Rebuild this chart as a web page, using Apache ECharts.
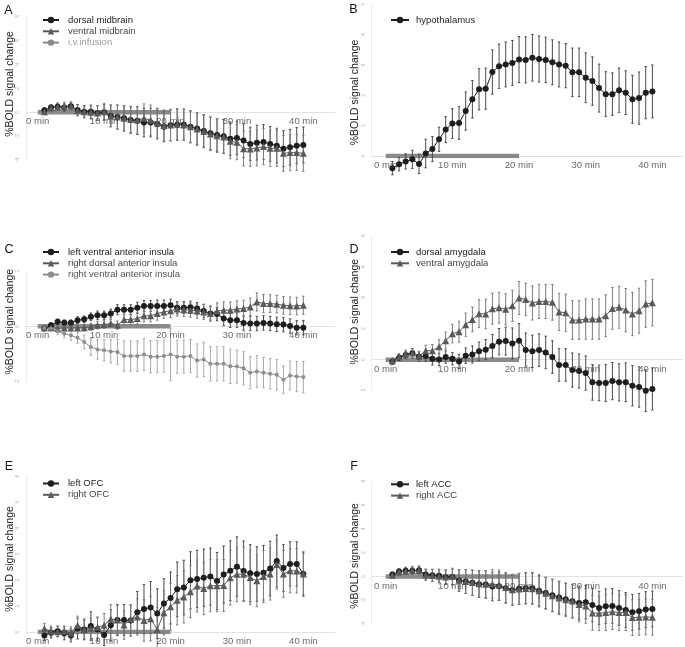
<!DOCTYPE html>
<html>
<head>
<meta charset="utf-8">
<script src="https://cdn.jsdelivr.net/npm/echarts@6/dist/echarts.min.js"></script>
<style>
html,body{margin:0;padding:0;background:#fff;}
#chart{width:685px;height:647px;}
</style>
</head>
<body>
<div id="chart"></div>
<script>
// ---------- data ----------
const minutes = [1,2,3,4,5,6,7,8,9,10,11,12,13,14,15,16,17,18,19,20,21,22,23,24,25,26,27,28,29,30,31,32,33,34,35,36,37,38,39,40];
const xTickValues = [0, 10, 20, 30, 40];
const infusionX = [0, 20];
const infusionY = [0, 0];

// A
const dorsalMidbrain = [0.17,0.4,0.47,0.4,0.5,0.2,0.05,0.05,-0.08,0,-0.3,-0.4,-0.5,-0.65,-0.7,-0.85,-0.85,-0.97,-1.2,-1.08,-1.03,-1.03,-1.2,-1.36,-1.55,-1.75,-1.9,-2.0,-2.2,-2.14,-2.36,-2.64,-2.53,-2.47,-2.64,-2.78,-3.03,-2.92,-2.78,-2.72];
const dorsalMidbrainErr = [0.2,0.25,0.3,0.3,0.35,0.45,0.5,0.55,0.6,0.65,0.9,1.0,1.05,1.1,1.15,1.2,1.2,1.25,1.25,1.3,1.3,1.3,1.3,1.3,1.35,1.35,1.35,1.4,1.4,1.4,1.4,1.4,1.45,1.45,1.45,1.45,1.5,1.5,1.5,1.5];
const ventralMidbrain = [0.05,0.35,0.45,0.5,0.5,0.15,0.05,0.0,-0.05,0.05,-0.3,-0.4,-0.5,-0.6,-0.65,-0.5,-0.65,-0.9,-1.1,-1.05,-1.0,-1.05,-1.2,-1.4,-1.6,-1.8,-1.95,-2.05,-2.42,-2.5,-3.03,-3.05,-2.97,-2.86,-3.0,-3.0,-3.42,-3.36,-3.36,-3.42];
const ventralMidbrainErr = [0.25,0.3,0.3,0.35,0.35,0.45,0.5,0.55,0.6,0.7,0.9,1.0,1.05,1.1,1.15,1.2,1.25,1.25,1.3,1.3,1.3,1.3,1.35,1.35,1.35,1.4,1.4,1.4,1.45,1.45,1.45,1.45,1.5,1.5,1.5,1.5,1.5,1.5,1.5,1.5];

// B
const hypothalamus = [-0.4,-0.27,-0.18,-0.11,-0.26,0.08,0.23,0.55,0.87,1.07,1.09,1.48,1.87,2.2,2.22,2.77,2.96,3.02,3.07,3.18,3.17,3.24,3.2,3.17,3.09,3.02,2.98,2.76,2.76,2.58,2.47,2.24,2.04,2.04,2.17,2.09,1.87,1.91,2.09,2.13];
const hypothalamusErr = [0.22,0.22,0.25,0.3,0.32,0.47,0.41,0.4,0.43,0.49,0.54,0.63,0.62,0.68,0.68,0.73,0.73,0.74,0.74,0.76,0.76,0.77,0.76,0.75,0.74,0.74,0.73,0.8,0.8,0.82,0.8,0.79,0.74,0.7,0.73,0.72,0.79,0.86,0.86,0.87];

// C
const leftVentralInsula = [-0.08,0.04,0.16,0.13,0.13,0.22,0.25,0.34,0.4,0.4,0.46,0.6,0.6,0.6,0.67,0.73,0.73,0.73,0.73,0.76,0.67,0.67,0.69,0.64,0.55,0.46,0.44,0.28,0.22,0.22,0.12,0.1,0.1,0.12,0.1,0.07,0.06,0.01,-0.05,-0.05];
const leftVentralInsulaErr = [0.08,0.08,0.1,0.1,0.1,0.12,0.12,0.14,0.15,0.15,0.16,0.18,0.18,0.18,0.2,0.2,0.2,0.22,0.22,0.22,0.22,0.22,0.22,0.22,0.24,0.24,0.24,0.26,0.26,0.26,0.26,0.26,0.26,0.26,0.26,0.26,0.26,0.26,0.26,0.26];
const rightDorsalInsula = [-0.05,-0.05,-0.08,-0.06,-0.06,-0.06,-0.05,-0.02,0.04,0.06,0.1,0.04,0.24,0.24,0.28,0.38,0.38,0.46,0.52,0.56,0.62,0.6,0.58,0.55,0.52,0.46,0.55,0.58,0.58,0.62,0.64,0.7,0.88,0.82,0.82,0.8,0.76,0.74,0.73,0.76];
const rightDorsalInsulaErr = [0.06,0.08,0.08,0.1,0.1,0.1,0.12,0.12,0.14,0.14,0.15,0.15,0.18,0.18,0.2,0.22,0.22,0.24,0.24,0.25,0.25,0.25,0.25,0.26,0.28,0.28,0.3,0.3,0.3,0.3,0.3,0.32,0.33,0.33,0.32,0.32,0.32,0.32,0.32,0.33];
const rightVentralInsula = [-0.06,-0.08,-0.18,-0.27,-0.33,-0.42,-0.57,-0.75,-0.84,-0.87,-0.91,-0.93,-1.08,-1.08,-1.08,-1.02,-1.1,-1.1,-1.08,-1.02,-1.1,-1.1,-1.08,-1.24,-1.2,-1.36,-1.36,-1.36,-1.45,-1.46,-1.52,-1.68,-1.64,-1.68,-1.72,-1.76,-1.94,-1.78,-1.82,-1.84];
const rightVentralInsulaErr = [0.08,0.1,0.12,0.15,0.18,0.2,0.25,0.3,0.35,0.38,0.42,0.45,0.55,0.55,0.55,0.58,0.58,0.58,0.58,0.95,0.6,0.6,0.6,0.6,0.62,0.62,0.62,0.62,0.62,0.6,0.6,0.58,0.58,0.55,0.55,0.55,0.5,0.52,0.55,0.57];

// D
const dorsalAmygdala = [-0.13,0.13,0.3,0.41,0.19,0.24,0.06,0.02,0.17,0.06,-0.11,0.26,0.34,0.54,0.65,0.88,1.16,1.2,1.05,1.23,0.62,0.54,0.62,0.47,0.17,-0.34,-0.34,-0.67,-0.73,-0.86,-1.46,-1.5,-1.5,-1.38,-1.46,-1.46,-1.68,-1.76,-2.0,-1.89];
const dorsalAmygdalaErr = [0.15,0.2,0.25,0.3,0.3,0.35,0.4,0.4,0.4,0.4,0.45,0.5,0.55,0.6,0.65,0.75,0.85,0.9,1.0,1.1,1.1,1.05,1.05,1.05,1.05,1.05,1.05,1.1,1.1,1.1,1.15,1.15,1.2,1.2,1.2,1.25,1.3,1.3,1.35,1.35];
const ventralAmygdala = [-0.06,0.19,0.37,0.43,0.24,0.58,0.58,0.84,1.23,1.68,1.81,2.26,2.6,2.97,2.95,3.29,3.35,3.25,3.48,3.98,3.89,3.66,3.76,3.76,3.7,3.08,3.03,2.56,2.56,2.62,2.62,2.62,2.84,3.31,3.38,3.2,2.95,3.16,3.59,3.68];
const ventralAmygdalaErr = [0.15,0.2,0.25,0.3,0.3,0.35,0.4,0.45,0.55,0.6,0.67,0.75,0.8,0.9,0.95,1.0,1.0,1.0,1.0,1.07,1.05,1.1,1.1,1.1,1.15,1.2,1.2,1.25,1.25,1.3,1.3,1.3,1.35,1.35,1.35,1.4,1.4,1.45,1.5,1.5];

// E
const leftOFC = [-0.13,-0.03,0.03,-0.05,-0.13,0.13,0.1,0.23,0.1,-0.12,0.26,0.46,0.46,0.44,0.76,0.88,0.94,0.71,1.1,1.31,1.64,1.71,1.99,2.04,2.09,2.13,1.96,2.21,2.36,2.51,2.35,2.26,2.23,2.28,2.44,2.73,2.46,2.62,2.62,2.23];
const leftOFCErr = [0.2,0.2,0.2,0.25,0.25,0.4,0.4,0.55,0.45,0.4,0.6,0.6,0.6,0.6,0.8,0.95,1.0,0.95,0.95,1.0,1.05,1.05,1.1,1.1,1.1,1.1,1.1,1.1,1.15,1.15,1.15,1.1,1.05,1.05,1.05,1.0,0.9,0.85,0.85,0.85];
const rightOFC = [0.13,0.03,0.01,0.03,-0.05,0.26,0.1,0.14,0.18,0.26,0.5,0.46,0.27,0.49,0.58,0.44,0.51,0.1,0.74,0.97,1.22,1.35,1.55,1.77,1.67,1.78,1.78,1.79,2.09,2.22,2.22,2.1,1.97,2.13,2.23,2.6,2.23,2.36,2.35,2.23];
const rightOFCErr = [0.2,0.2,0.2,0.2,0.25,0.35,0.35,0.4,0.4,0.45,0.55,0.55,0.55,0.55,0.7,0.8,0.85,0.85,0.85,0.9,0.95,1.0,1.0,1.0,1.0,1.0,1.0,1.0,1.05,1.05,1.05,1.05,1.0,1.0,1.0,0.95,0.9,0.85,0.85,0.8];

// F
const leftACC = [0.17,0.42,0.48,0.48,0.53,0.17,0.11,0.06,-0.06,-0.03,-0.34,-0.42,-0.53,-0.64,-0.67,-0.84,-0.81,-0.98,-1.15,-1.03,-0.98,-0.98,-1.2,-1.37,-1.57,-1.76,-1.9,-2.07,-2.21,-2.15,-2.38,-2.63,-2.49,-2.46,-2.63,-2.8,-2.99,-2.91,-2.77,-2.71];
const leftACCErr = [0.2,0.25,0.3,0.3,0.35,0.45,0.5,0.55,0.6,0.65,0.9,1.0,1.05,1.1,1.15,1.2,1.2,1.25,1.25,1.3,1.3,1.3,1.3,1.3,1.35,1.35,1.35,1.4,1.4,1.4,1.4,1.4,1.45,1.45,1.45,1.45,1.5,1.5,1.5,1.5];
const rightACC = [0.1,0.38,0.45,0.5,0.5,0.12,0.08,0.03,-0.03,0.0,-0.32,-0.42,-0.5,-0.6,-0.65,-0.62,-0.7,-0.92,-1.1,-1.05,-1.0,-1.02,-1.2,-1.4,-1.6,-1.8,-1.95,-2.05,-2.35,-2.46,-3.05,-3.08,-3.02,-2.94,-3.02,-3.02,-3.44,-3.41,-3.38,-3.41];
const rightACCErr = [0.25,0.3,0.3,0.35,0.35,0.45,0.5,0.55,0.6,0.7,0.9,1.0,1.05,1.1,1.15,1.2,1.25,1.25,1.3,1.3,1.3,1.3,1.35,1.35,1.35,1.4,1.4,1.4,1.45,1.45,1.45,1.45,1.5,1.5,1.5,1.5,1.5,1.5,1.5,1.5];

// ---------- styles ----------
const FONT = 'Liberation Sans, Arial, sans-serif';
const STY = {
  dark:  { color: '#1e1e1e', err: '#4a4a4a', symbol: 'circle',   size: 6 },
  mid:   { color: '#5a5a5a', err: '#7c7c7c', symbol: 'triangle', size: 7 },
  light: { color: '#8e8e8e', err: '#a8a8a8', symbol: 'circle',   size: 4 }
};

const panels = [
  { letter:'A', grid:{left:26.1, top:16.3, width:308.8, height:144}, x:[-1.75,44.75], y:[-4,8,2],
    letterPos:[8.3,10.7], namePos:[10,84], legendPos:[42,14.5], legendSide:'left',
    series:[['dorsal midbrain', dorsalMidbrain, dorsalMidbrainErr, 'dark'], ['ventral midbrain', ventralMidbrain, ventralMidbrainErr, 'mid']],
    infusion:'i.v.infusion', infusionInLegend:true },
  { letter:'B', grid:{left:371.7, top:2.7, width:310.7, height:153.3}, x:[-2.1,44.5], y:[0,5,1],
    letterPos:[353.3,10], namePos:[354.7,92.5], legendPos:[390,14.5], legendSide:'right',
    series:[['hypothalamus', hypothalamus, hypothalamusErr, 'dark']],
    infusion:'infusion B', infusionInLegend:false },
  { letter:'C', grid:{left:26.1, top:271, width:308.8, height:110.5}, x:[-1.75,44.75], y:[-2,2,2],
    letterPos:[9,249.3], namePos:[10,321.7], legendPos:[42,246.5], legendSide:'left',
    series:[['left ventral anterior insula', leftVentralInsula, leftVentralInsulaErr, 'dark'],
            ['right dorsal anterior insula', rightDorsalInsula, rightDorsalInsulaErr, 'mid'],
            ['right ventral anterior insula', rightVentralInsula, rightVentralInsulaErr, 'light']],
    infusion:'infusion C', infusionInLegend:false },
  { letter:'D', grid:{left:371.7, top:235.7, width:310.7, height:155}, x:[-2.1,44.5], y:[-2,8,2],
    letterPos:[354,249.3], namePos:[354.7,311.7], legendPos:[390,246.5], legendSide:'right',
    series:[['dorsal amygdala', dorsalAmygdala, dorsalAmygdalaErr, 'dark'], ['ventral amygdala', ventralAmygdala, ventralAmygdalaErr, 'mid']],
    infusion:'infusion D', infusionInLegend:false },
  { letter:'E', grid:{left:26.1, top:476, width:308.8, height:156}, x:[-1.75,44.75], y:[0,6,1],
    letterPos:[9,466.7], namePos:[10,559], legendPos:[42,478], legendSide:'left',
    series:[['left OFC', leftOFC, leftOFCErr, 'dark'], ['right OFC', rightOFC, rightOFCErr, 'mid']],
    infusion:'infusion E', infusionInLegend:false },
  { letter:'F', grid:{left:371.7, top:481, width:310.7, height:143.3}, x:[-2.1,44.5], y:[-4,8,2],
    letterPos:[354,466.7], namePos:[355,556], legendPos:[390,478.8], legendSide:'right',
    series:[['left ACC', leftACC, leftACCErr, 'dark'], ['right ACC', rightACC, rightACCErr, 'mid']],
    infusion:'infusion F', infusionInLegend:false }
];

function errRender(color) {
  return function (params, api) {
    const x = api.value(0), y = api.value(1), e = api.value(2);
    const p1 = api.coord([x, y + e]);
    const p2 = api.coord([x, y - e]);
    const cap = 1.2;
    return {
      type: 'group',
      children: [
        { type:'line', shape:{x1:p1[0], y1:p1[1], x2:p2[0], y2:p2[1]}, style:{stroke:color, lineWidth:1} },
        { type:'line', shape:{x1:p1[0]-cap, y1:p1[1], x2:p1[0]+cap, y2:p1[1]}, style:{stroke:color, lineWidth:1} },
        { type:'line', shape:{x1:p2[0]-cap, y1:p2[1], x2:p2[0]+cap, y2:p2[1]}, style:{stroke:color, lineWidth:1} }
      ]
    };
  };
}

const grids = [], xAxes = [], yAxes = [], series = [], legends = [], graphics = [];

panels.forEach((p, i) => {
  grids.push(Object.assign({}, p.grid));
  xAxes.push({
    type:'value', gridIndex:i, min:p.x[0], max:p.x[1],
    axisLine:{ show:true, onZero:true, lineStyle:{ color:'#e2e2e2', width:1 } },
    axisTick:{ show:false }, splitLine:{ show:false },
    axisLabel:{ show:false }
  });
  yAxes.push({
    type:'value', gridIndex:i, min:p.y[0], max:p.y[1], interval:p.y[2],
    axisLine:{ show:true, onZero:false, lineStyle:{ color:'#ececec', width:1 } },
    axisTick:{ show:false }, splitLine:{ show:false },
    axisLabel:{ fontSize:5, color:'#b0b0b0', rotate:90, margin:6, fontFamily:FONT }
  });

  // x tick labels sitting on the zero line (positioned by the axes)
  series.push({
    name:'xlabels ' + p.letter, type:'scatter', xAxisIndex:i, yAxisIndex:i,
    data: xTickValues.map(v => [v, 0]),
    symbol:'rect', symbolSize: 1, itemStyle:{ color:'rgba(255,255,255,0)' },
    label:{ show:true, position:'bottom', distance:4, formatter: d => d.value[0] + ' min',
            fontSize:9.5, color:'#444', fontFamily:FONT },
    z:5, silent:true, clip:false, animation:false
  });

  // infusion bar
  series.push({
    name:p.infusion, type:'line', xAxisIndex:i, yAxisIndex:i,
    data: infusionX.map((v, k) => [v, infusionY[k]]),
    symbol:'none', lineStyle:{ color:'#8a8a8a', width:4.5 }, itemStyle:{ color:'#8a8a8a' },
    z:1, silent:true, animation:false
  });

  const legendData = [];
  p.series.forEach(s => {
    const st = STY[s[3]];
    series.push({
      name: s[0] + ' err', type:'custom', xAxisIndex:i, yAxisIndex:i,
      data: minutes.map((m, k) => [m, s[1][k], s[2][k]]),
      encode:{ x:0, y:1 },
      renderItem: errRender(st.err), clip:false, silent:true, z:2, animation:false
    });
    series.push({
      name: s[0], type:'line', xAxisIndex:i, yAxisIndex:i,
      data: minutes.map((m, k) => [m, s[1][k]]),
      symbol: st.symbol, symbolSize: st.size, showAllSymbol:true,
      lineStyle:{ color: st.color, width:1 }, itemStyle:{ color: st.color },
      clip:false, z:3, animation:false
    });
    legendData.push({ name:s[0], textStyle:{ color: s[3] === 'dark' ? '#222' : (s[3] === 'mid' ? '#444' : '#555') } });
  });
  if (p.infusionInLegend) legendData.push({ name:p.infusion, textStyle:{ color:'#9a9a9a' } });

  legends.push({
    left: p.legendPos[0], top: p.legendPos[1], orient:'vertical', padding:0,
    itemGap: 0.3, itemWidth: p.legendSide === 'left' ? 16 : 18, itemHeight: 8,
    selectedMode:false,
    textStyle:{ fontSize:9.5, lineHeight:11, fontFamily:FONT, padding: p.legendSide === 'left' ? [0,0,0,4] : [0,0,0,2] },
    data: legendData
  });

  graphics.push({
    type:'text', x:p.letterPos[0], y:p.letterPos[1],
    style:{ text:p.letter, fontSize:12.5, fill:'#111', align:'center', verticalAlign:'middle', fontFamily:FONT }
  });
  graphics.push({
    type:'text', x:p.namePos[0], y:p.namePos[1], rotation: Math.PI / 2,
    style:{ text:'%BOLD signal change', fontSize:10.5, fill:'#222', align:'center', verticalAlign:'middle', fontFamily:FONT }
  });
});

const chart = echarts.init(document.getElementById('chart'), null, { renderer:'canvas' });
chart.setOption({
  backgroundColor:'#ffffff',
  animation:false,
  textStyle:{ fontFamily:FONT },
  grid: grids, xAxis: xAxes, yAxis: yAxes,
  legend: legends, series: series, graphic: graphics
});
</script>
</body>
</html>
